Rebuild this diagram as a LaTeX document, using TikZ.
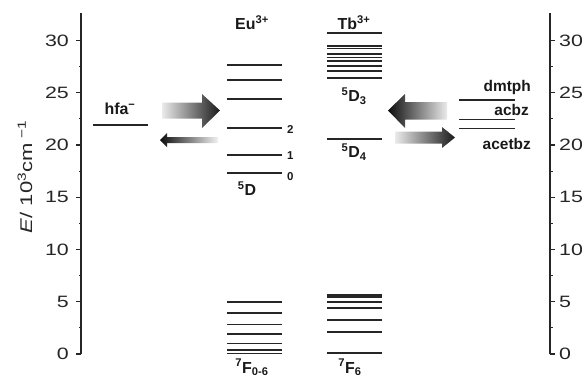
\documentclass[tikz,border=0pt]{standalone}
\usepackage{fontspec}
\setmainfont{Liberation Sans}
\newfontfamily\widefont{Liberation Sans}[FakeStretch=1.3]
\newcommand\EE[1]{354-10.45*(#1)}
\tikzset{
  lvl/.style={line width=1.7bp, black!85},
  axisline/.style={line width=1.2bp, black!85},
  ticklab/.style={font=\widefont\fontsize{16.5}{16.5}\selectfont, text=black!85, inner sep=0pt},
  ionlab/.style={font=\bfseries\fontsize{16}{16}\selectfont, text=black!90, inner sep=0pt},
  liglab/.style={font=\bfseries\fontsize{15.5}{15.5}\selectfont, text=black!90, inner sep=0pt},
  smalllab/.style={font=\bfseries\fontsize{11.5}{11.5}\selectfont, text=black!90, inner sep=0pt}
}
\begin{document}
\begin{tikzpicture}[x=1bp,y=-1bp]
\useasboundingbox (0,0) rectangle (582,374);
% axes
\draw[axisline] (81,13) -- (81,{\EE{0}}) coordinate (la0);
\draw[axisline] (550,13) -- (550,{\EE{0}}) coordinate (ra0);
\foreach \v in {0,5,...,30}{
  \draw[axisline] (81,{\EE{\v}}) -- (76,{\EE{\v}});
  \draw[axisline] (550,{\EE{\v}}) -- (555,{\EE{\v}});
  \node[ticklab, anchor=east] (l\v) at (69,{\EE{\v}}) {\v};
  \node[ticklab, anchor=west] (r\v) at (559,{\EE{\v}}) {\v};
}
\foreach \v in {2.5,7.5,...,27.5}{
  \draw[axisline] (81,{\EE{\v}}) -- (78.5,{\EE{\v}});
  \draw[axisline] (550,{\EE{\v}}) -- (552.5,{\EE{\v}});
}
\node[rotate=90, anchor=base, font=\widefont\fontsize{17}{17}\selectfont, text=black!85, inner sep=0pt] (ylab) at (32,177)
  {{\itshape E}/ 10\textsuperscript{3}cm\textsuperscript{ −1}};
% hfa
\draw[lvl] (93,125) -- (148,125);
\node[ionlab] (hfa) at (120,109) {hfa\textsuperscript{−}};
% Eu levels
\node[ionlab] (eu) at (252,23) {Eu\textsuperscript{3+}};
\foreach \p in {65,80,99,128,155,173,302,313,324.5,334,343.5,350,353.5}
  \draw[lvl] (227,\p) -- (282,\p);
\node[smalllab, anchor=west] (eu2) at (287,129) {2};
\node[smalllab, anchor=west] (eu1) at (287,156) {1};
\node[smalllab, anchor=west] (eu0) at (287,177) {0};
\node[ionlab] (eu5d) at (247,189) {\textsuperscript{5}D};
\node[ionlab, anchor=base] (eu7f) at (252,373) {\textsuperscript{7}F\textsubscript{0-6}};
% Tb levels
\node[ionlab] (tb) at (354,23) {Tb\textsuperscript{3+}};
\foreach \p in {33,46,48.5,54,57.5,61,66,71,78,139,295,297.3,301.7,308.3,320,332.3,353.3}
  \draw[lvl] (327,\p) -- (382,\p);
\node[ionlab] (tb5d3) at (354,96) {\textsuperscript{5}D\textsubscript{3}};
\node[ionlab] (tb5d4) at (354,152) {\textsuperscript{5}D\textsubscript{4}};
\node[ionlab, anchor=base] (tb7f) at (350,373) {\textsuperscript{7}F\textsubscript{6}};
% ligand levels
\foreach \p in {100,119.5,128.5}
  \draw[lvl] (459,\p) -- (515,\p);
\node[liglab, anchor=east] (dmtph) at (531,88) {dmtph};
\node[liglab, anchor=east] (acbz) at (529,110) {acbz};
\node[liglab, anchor=east] (acetbz) at (531,144) {acetbz};
% arrows (shaded)
\shade[left color=black!8, right color=black!90]
  (162,102.5) -- (202,102.5) -- (202,94) -- (220,110.5) -- (202,128) -- (202,118.5) -- (162,118.5) -- cycle;
\shade[left color=black!95, right color=black!5]
  (160,140) -- (167,133) -- (167,137) -- (218,137) -- (218,143) -- (167,143) -- (167,147) -- cycle;
\shade[left color=black!95, right color=black!8]
  (388,110.5) -- (405,94) -- (405,102) -- (447,102) -- (447,119.5) -- (405,119.5) -- (405,128) -- cycle;
\shade[left color=black!8, right color=black!90]
  (395,131.5) -- (442,131.5) -- (442,127) -- (455,137.5) -- (442,148) -- (442,143.5) -- (395,143.5) -- cycle;
\end{tikzpicture}
\end{document}
